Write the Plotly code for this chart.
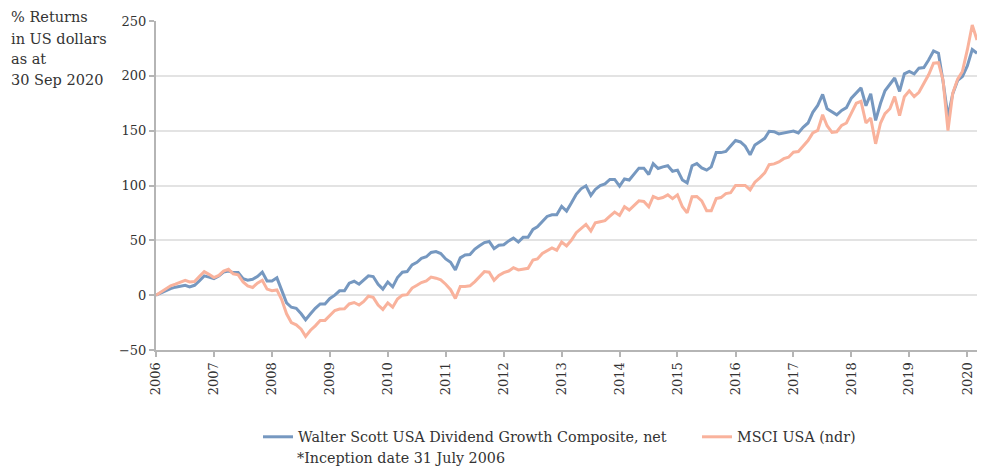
import pandas as pd
import plotly.graph_objects as go

# Monthly cumulative % returns, Jul 2006 .. Sep 2020
dates = pd.date_range("2006-07-31", periods=171, freq="ME")

walter_scott = [
    0, 2, 4.5, 6, 7.3, 8, 9, 7.6, 9, 13, 17.6, 16.5, 15, 17.5, 21, 22, 20.6, 20.6, 15, 13.6,
    14.5, 17, 21, 13, 13, 15.8, 4, -7, -11, -12, -17, -22.4, -17, -12, -8, -8, -3, 0, 4, 4,
    11, 12.7, 10, 13.6, 17.6, 17, 10, 5.5, 12, 7.6, 16, 21, 21.5, 27.6, 30, 33.6, 35, 39, 39.7, 38,
    33, 30, 23, 34, 36.7, 37, 42, 45, 48, 49, 42.4, 45.5, 46, 49.5, 52, 48.5, 52.7, 52.7, 60, 62.4,
    67.6, 71.8, 73.3, 73.3, 81, 76.7, 84, 92, 97, 99.7, 91, 96.4, 100, 101.5, 105.5, 105.5, 99.4, 106, 105, 110,
    115.8, 115.8, 110, 120, 115.5, 117, 118, 113, 114, 105, 102.4, 118, 120, 116, 114, 117, 130, 130, 131, 136,
    141, 139.7, 135.8, 128, 137, 140, 143, 149.4, 149, 147, 148, 148.5, 149.7, 148, 153, 157, 166.7, 173, 183, 170,
    167, 164.5, 168.5, 171, 179.7, 184, 189, 172.7, 183.6, 159.4, 175, 186.4, 192.7, 198, 185.8, 201.8, 204, 201.8, 207, 207.6,
    214.5, 222.7, 220.6, 195, 162.4, 183.6, 195.8, 199.4, 209, 224, 220.6,
]

msci_usa = [
    0, 3, 6, 8.5, 10, 12, 13.6, 12, 12.5, 17, 21.5, 19, 16, 18, 22, 23.6, 19.5, 18.5, 12, 8.5,
    7, 11, 13.6, 5.5, 4, 4.8, -4, -17, -25, -27, -31, -37.6, -32, -28, -23, -23, -18, -14, -12.7, -12.5,
    -8, -6.7, -9, -6, -1, -2, -9, -13, -7, -11, -3.6, 0, 0.5, 6.5, 9, 11.5, 13, 16.5, 15.5, 14,
    10, 5, -3, 8, 8, 8.5, 12.4, 17, 21.5, 21, 13.6, 18, 20.6, 22, 25, 23, 23.5, 24.5, 32, 33,
    38, 40.5, 43, 41, 48.5, 45, 50, 57, 61, 64.5, 58.5, 66, 67, 68, 72, 75.8, 72.7, 80.6, 77.6, 82,
    86, 85.5, 80.6, 90, 88, 89, 91.5, 88, 91.5, 80.6, 75, 89.7, 90, 86, 77, 77, 88, 89, 92.6, 93.4,
    100, 100, 100, 96, 103, 107, 111.5, 119, 119.7, 121.5, 124.5, 125.8, 130.3, 131, 135.8, 141, 148, 150.3, 164.5, 154.5,
    148.5, 149, 154.8, 157, 166, 175, 176.7, 157, 161.5, 138, 157, 165.5, 170, 181, 163.6, 181, 186.4, 181, 185, 192.7,
    201, 211.5, 212, 196, 150, 184, 197, 204, 223.6, 246.4, 232.7,
]

tick_years = [str(y) for y in range(2006, 2021)]
tick_dates = [pd.Timestamp(f"{y}-07-31") for y in range(2006, 2021)]

series_names = ["Walter Scott USA Dividend Growth Composite, net", "MSCI USA (ndr)"]
colors = ["#7698c0", "#f9b29c"]
title_lines = ["% Returns", "in US dollars", "as at", "30 Sep 2020"]
note_text = "*Inception date 31 July 2006"

FONT = "DejaVu Serif"
TXT = "#333333"

fig = go.Figure()
fig.add_trace(go.Scatter(x=dates, y=walter_scott, mode="lines", name=series_names[0],
                         line=dict(color=colors[0], width=3), legend="legend"))
fig.add_trace(go.Scatter(x=dates, y=msci_usa, mode="lines", name=series_names[1],
                         line=dict(color=colors[1], width=3), legend="legend2"))

W, H = 984, 467
L, R, T, B = 156, 7, 21, 117
pw = W - L - R
ph = H - T - B

def px_x(x):
    return (x - L) / pw

def px_y(y):
    return (H - B - y) / ph

annotations = []
for line, yc in zip(title_lines, [17.5, 38.5, 59, 79.5]):
    annotations.append(dict(text=line, xref="paper", yref="paper",
                            x=px_x(9), y=px_y(yc), xanchor="left", yanchor="middle",
                            align="left", showarrow=False,
                            font=dict(family=FONT, size=14.5, color=TXT)))
annotations.append(dict(text=note_text, xref="paper", yref="paper",
                        x=px_x(295), y=px_y(458), xanchor="left", yanchor="middle", showarrow=False,
                        font=dict(family=FONT, size=14.3, color=TXT)))

fig.update_layout(
    width=W, height=H,
    margin=dict(l=L, r=R, t=T, b=B),
    paper_bgcolor="white", plot_bgcolor="white",
    font=dict(family=FONT, size=13, color=TXT),
    showlegend=True,
    legend=dict(orientation="h", x=px_x(258), y=px_y(437), xanchor="left", yanchor="middle",
                font=dict(family=FONT, size=14.3, color=TXT), bgcolor="rgba(0,0,0,0)"),
    legend2=dict(orientation="h", x=px_x(697), y=px_y(437), xanchor="left", yanchor="middle",
                 font=dict(family=FONT, size=14.3, color=TXT), bgcolor="rgba(0,0,0,0)"),
    xaxis=dict(
        range=[dates[0], dates[-1]],
        tickvals=tick_dates, ticktext=tick_years, tickangle=-90,
        showgrid=False, zeroline=False, automargin=False,
        showline=True, linecolor="#b5b5b5", linewidth=2,
        ticks="outside", ticklen=5, tickcolor="#b5b5b5", tickwidth=1.5,
        tickfont=dict(family=FONT, size=13, color=TXT),
    ),
    yaxis=dict(
        range=[-50, 250], dtick=50, tick0=0,
        showgrid=True, gridcolor="#e3e3e3", gridwidth=1.5,
        zeroline=False, automargin=False,
        showline=True, linecolor="#b5b5b5", linewidth=2,
        ticks="outside", ticklen=5, tickcolor="#b5b5b5", tickwidth=1.5,
        tickfont=dict(family=FONT, size=13, color=TXT),
    ),
    annotations=annotations,
)

fig.write_html("out.html", config={"displayModeBar": False},
               post_script="document.body.style.margin='0';document.body.style.padding='0';")
